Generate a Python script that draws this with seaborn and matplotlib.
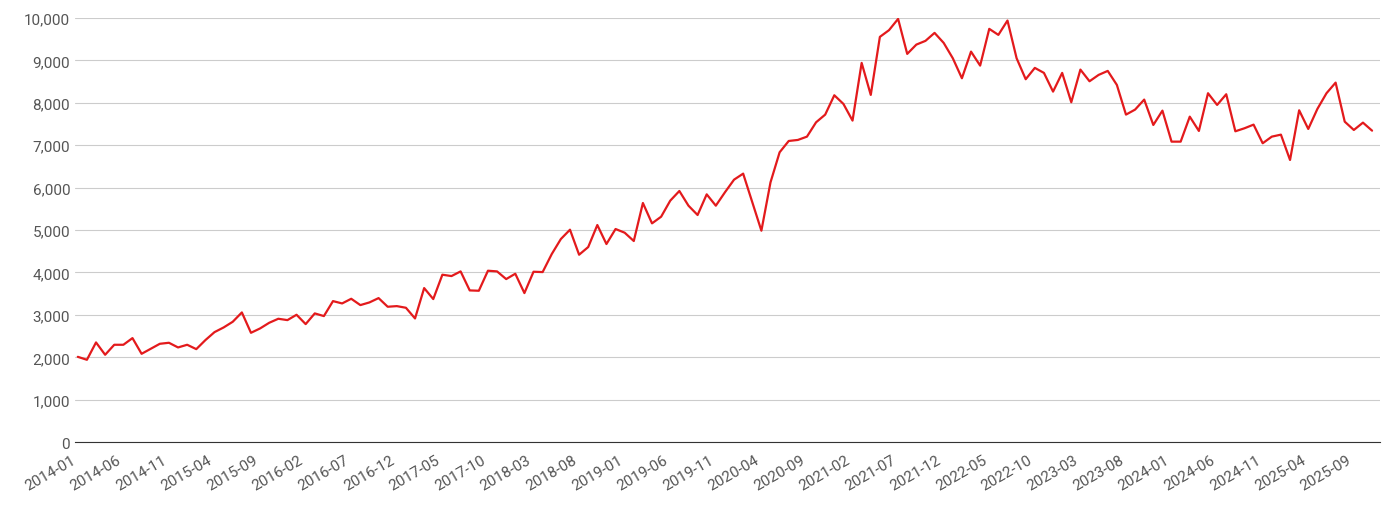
import pandas as pd
import seaborn as sns
import matplotlib
matplotlib.use("Agg")
import matplotlib.pyplot as plt
from matplotlib.ticker import FuncFormatter

# monthly values, 2014-01 .. 2025-11
months = pd.period_range("2014-01", "2025-11", freq="M").strftime("%Y-%m").tolist()
values = [
    2012, 1942, 2351, 2060, 2296, 2296, 2453, 2083, 2201, 2319, 2343, 2233,
    2296, 2193, 2406, 2594, 2704, 2838, 3058, 2578, 2681, 2814, 2909, 2877,
    3003, 2783, 3035, 2972, 3325, 3270, 3380, 3231, 3294, 3396, 3192, 3207,
    3168, 2916, 3632, 3373, 3947, 3915, 4025, 3577, 3569, 4041, 4025, 3844,
    3970, 3514, 4017, 4009, 4434, 4788, 5008, 4418, 4599, 5118, 4670, 5024,
    4937, 4741, 5637, 5157, 5314, 5692, 5920, 5574, 5354, 5841, 5574, 5889,
    6187, 6329, 5653, 4984, 6124, 6832, 7099, 7123, 7201, 7539, 7720, 8176,
    7972, 7579, 8939, 8184, 9552, 9710, 9976, 9151, 9370, 9458, 9646, 9410,
    9049, 8577, 9205, 8875, 9741, 9599, 9937, 9049, 8554, 8821, 8703, 8262,
    8703, 8011, 8781, 8506, 8656, 8750, 8420, 7720, 7838, 8074, 7476, 7814,
    7083, 7083, 7672, 7335, 8224, 7948, 8200, 7327, 7398, 7484, 7045, 7201,
    7248, 6651, 7822, 7382, 7854, 8224, 8474, 7554, 7358, 7531, 7342,
]
df = pd.DataFrame({"i": range(len(months)), "month": months, "value": values})

sns.set_style("white")
plt.rcParams["font.family"] = ["Roboto", "DejaVu Sans"]

fig = plt.figure(figsize=(13.9, 5.1), dpi=100)
ax = fig.add_axes([0.054, 0.131, 0.939, 0.832])
sns.lineplot(data=df, x="i", y="value", color="#e31a1c", linewidth=1.6, ax=ax)

ax.set_xlim(-0.3, len(months) - 0.1)
ax.set_ylim(0, 10000)
ax.set_yticks(range(0, 10001, 1000))
ax.yaxis.set_major_formatter(FuncFormatter(lambda v, p: f"{int(v):,}"))
ticks = list(range(0, len(months), 5))
ax.set_xticks(ticks)
ax.set_xticklabels([months[t] for t in ticks], rotation=30, ha="right")
ax.tick_params(axis="both", labelsize=11, colors="#555555", length=0)
ax.tick_params(axis="x", length=4, color="#333333")
ax.grid(axis="y", color="#cccccc", linewidth=0.8)
ax.set_xlabel("")
ax.set_ylabel("")
for s in ["left", "right", "top"]:
    ax.spines[s].set_visible(False)
ax.spines["bottom"].set_color("#333333")

fig.savefig("out.png", dpi=100)
